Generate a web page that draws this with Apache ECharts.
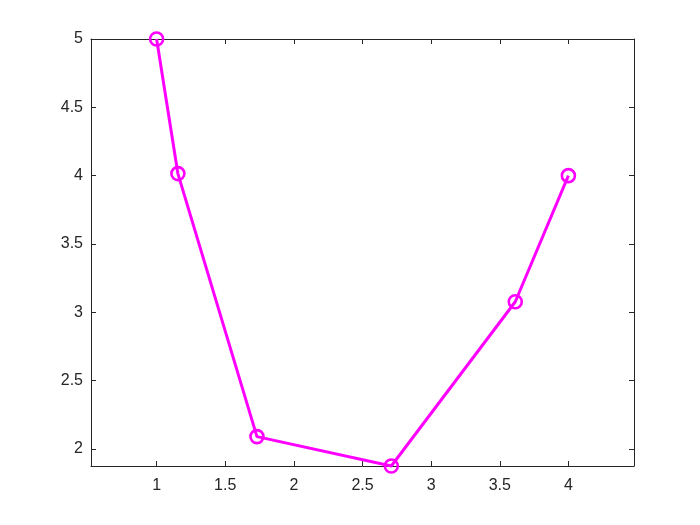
<!DOCTYPE html>
<html><head><meta charset="utf-8">
<script src="https://cdn.jsdelivr.net/npm/echarts@6/dist/echarts.min.js"></script>
<style>html,body{margin:0;padding:0;background:#fff}#c{width:700px;height:525px}</style>
</head><body><div id="c"></div>
<script>
const xValues = [1, 1.155, 1.731, 2.71, 3.613, 4];
const yValues = [5, 4.015, 2.09, 1.875, 3.077, 4];
const xTicks = [1, 1.5, 2, 2.5, 3, 3.5, 4];
const yTicks = [2, 2.5, 3, 3.5, 4, 4.5, 5];
const xRange = [0.522, 4.478];
const yRange = [1.875, 5];

const axisCol = '#262626';
const lbl = {color: axisCol, fontFamily: 'Liberation Sans', fontSize: 16};
function xa(pos, show) {
  return {type: 'value', position: pos, min: xRange[0], max: xRange[1],
    axisLine: {show: true, onZero: false, lineStyle: {color: axisCol, width: 1}},
    axisTick: {show: true, inside: true, length: 5, customValues: xTicks, lineStyle: {color: axisCol}},
    axisLabel: Object.assign({show: show, margin: 12, customValues: xTicks}, lbl),
    splitLine: {show: false}};
}
function ya(pos, show) {
  return {type: 'value', position: pos, min: yRange[0], max: yRange[1],
    axisLine: {show: true, onZero: false, lineStyle: {color: axisCol, width: 1}},
    axisTick: {show: true, inside: true, length: 5, customValues: yTicks, lineStyle: {color: axisCol}},
    axisLabel: Object.assign({show: show, margin: 8, customValues: yTicks}, lbl),
    splitLine: {show: false}};
}
const chart = echarts.init(document.getElementById('c'), null, {renderer: 'canvas'});
chart.setOption({
  animation: false,
  backgroundColor: '#fff',
  grid: {left: 91, right: 66, top: 39, bottom: 59, containLabel: false},
  xAxis: [xa('bottom', true), xa('top', false)],
  yAxis: [ya('left', true), ya('right', false)],
  series: [{
    type: 'line',
    data: xValues.map((x, i) => [x, yValues[i]]),
    symbol: 'circle', symbolSize: 13,
    lineStyle: {color: '#ff00ff', width: 3},
    itemStyle: {color: 'rgba(255,255,255,0)', borderColor: '#ff00ff', borderWidth: 2.6},
    clip: false
  }]
});
</script></body></html>
